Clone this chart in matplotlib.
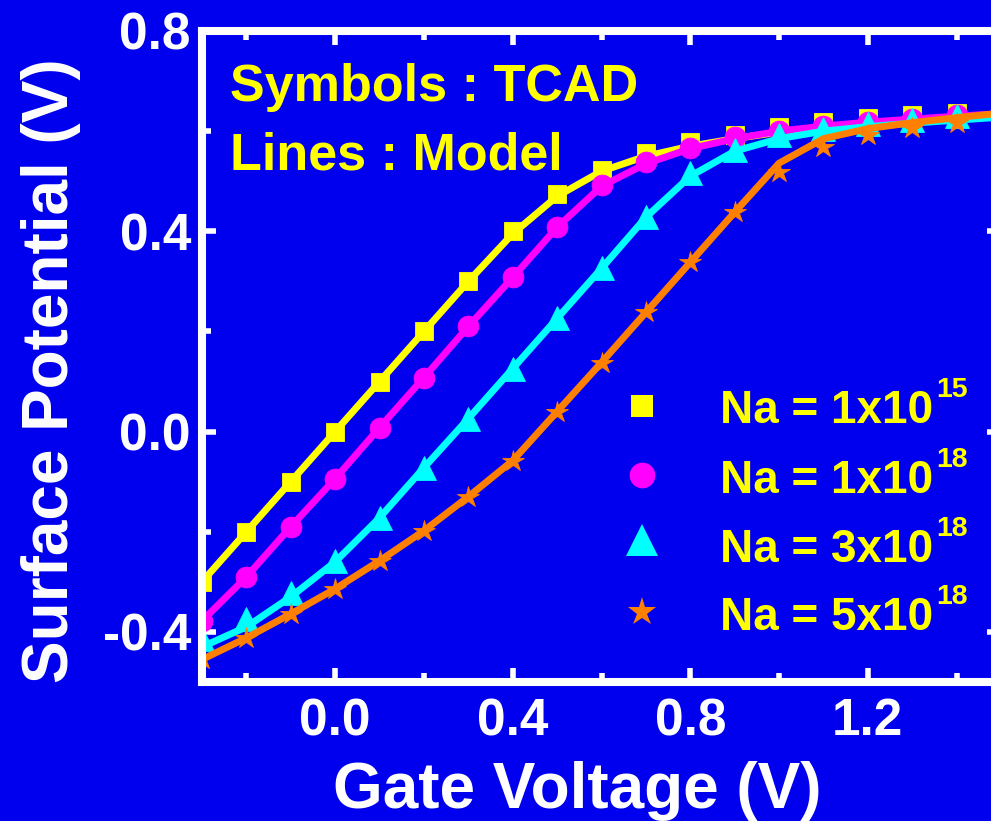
import matplotlib
matplotlib.use("Agg")
import matplotlib.pyplot as plt
from matplotlib.ticker import MultipleLocator

plt.rcParams['font.family'] = ['Liberation Sans', 'DejaVu Sans']
plt.rcParams['font.weight'] = 'bold'

# ---- data ----
vg_tcad = [-0.3, -0.2, -0.1, 0.0, 0.1, 0.2, 0.3, 0.4, 0.5, 0.6, 0.7, 0.8, 0.9,
           1.0, 1.1, 1.2, 1.3, 1.4]
tcad_1e15 = [-0.30, -0.20, -0.10, 0.00, 0.10, 0.20, 0.30, 0.40, 0.475, 0.522,
             0.556, 0.578, 0.592, 0.608, 0.618, 0.626, 0.632, 0.636]
tcad_1e18 = [-0.378, -0.29, -0.19, -0.094, 0.008, 0.108, 0.21, 0.308, 0.408,
             0.492, 0.538, 0.566, 0.588, 0.600, 0.610, 0.618, 0.625, 0.632]
tcad_3e18 = [-0.415, -0.375, -0.322, -0.258, -0.172, -0.072, 0.026, 0.126,
             0.226, 0.326, 0.428, 0.516, 0.562, 0.592, 0.604, 0.614, 0.622, 0.630]
tcad_5e18 = [-0.454, -0.412, -0.364, -0.314, -0.258, -0.198, -0.13, -0.058,
             0.04, 0.138, 0.238, 0.338, 0.438, 0.518, 0.568, 0.592, 0.606, 0.616]

vg_model = [-0.3, -0.2, -0.1, 0.0, 0.1, 0.2, 0.3, 0.4, 0.5, 0.6, 0.7, 0.8, 0.9,
            1.0, 1.1, 1.2, 1.3, 1.4, 1.5]
model_1e15 = [-0.30, -0.20, -0.10, 0.00, 0.10, 0.20, 0.30, 0.395, 0.47, 0.52,
              0.55, 0.57, 0.585, 0.598, 0.607, 0.614, 0.62, 0.625, 0.63]
model_1e18 = [-0.378, -0.29, -0.19, -0.094, 0.008, 0.108, 0.21, 0.308, 0.408,
              0.49, 0.535, 0.565, 0.585, 0.600, 0.610, 0.618, 0.624, 0.630, 0.635]
model_3e18 = [-0.43, -0.39, -0.33, -0.26, -0.172, -0.072, 0.026, 0.126, 0.226,
              0.326, 0.428, 0.51, 0.56, 0.585, 0.600, 0.609, 0.616, 0.622, 0.628]
model_5e18 = [-0.455, -0.412, -0.364, -0.314, -0.258, -0.198, -0.13, -0.058,
              0.04, 0.138, 0.238, 0.338, 0.438, 0.536, 0.585, 0.605, 0.617,
              0.627, 0.636]

label_base = ['Na = 1x10', 'Na = 1x10', 'Na = 3x10', 'Na = 5x10']
label_exp = ['15', '18', '18', '18']
colors = ['#FFFF00', '#FF00FF', '#00FFFF', '#FF8000']
markers = ['s', 'o', '^', '*']
x_ticks = [0.0, 0.4, 0.8, 1.2]
y_ticks = [-0.4, 0.0, 0.4, 0.8]

BG = '#0000EE'
W, H = 991, 821

fig = plt.figure(figsize=(W / 100, H / 100), dpi=100, facecolor=BG)
ax = fig.add_axes([202 / W, (H - 682) / H, 799 / W, 651 / H], facecolor=BG)

tcad = [tcad_1e15, tcad_1e18, tcad_3e18, tcad_5e18]
model = [model_1e15, model_1e18, model_3e18, model_5e18]
msizes = [13.5, 15, 17, 16]
for i in range(4):
    ax.plot(vg_tcad, tcad[i], linestyle='none', marker=markers[i],
            markersize=msizes[i], color=colors[i], markeredgewidth=0.6,
            markeredgecolor=colors[i], zorder=3 + 2 * i)
    ax.plot(vg_model, model[i], color=colors[i], linewidth=5,
            solid_capstyle='butt', solid_joinstyle='round', zorder=3 + 2 * i + 1)

ax.set_xlim(-0.3, 1.5)
ax.set_ylim(-0.5, 0.8)
ax.set_xticks(x_ticks)
ax.set_yticks(y_ticks)
ax.set_xticklabels([f'{v:.1f}' for v in x_ticks])
ax.set_yticklabels([f'{v:.1f}' for v in y_ticks])
ax.xaxis.set_minor_locator(MultipleLocator(0.2))
ax.yaxis.set_minor_locator(MultipleLocator(0.2))

for sp in ax.spines.values():
    sp.set_color('white')
    sp.set_linewidth(5.8)
    sp.set_zorder(20)

ax.tick_params(which='both', direction='in', color='white', top=True,
               right=True, labelcolor='white', labelsize=37)
ax.tick_params(which='major', length=10, width=4)
ax.tick_params(which='minor', length=6.5, width=4)
ax.tick_params(axis='x', which='major', pad=11)
ax.tick_params(axis='y', which='major', pad=8)
for lab in ax.get_xticklabels() + ax.get_yticklabels():
    lab.set_fontweight('bold')

fig.text(577.5 / W, 1 - 808 / H, 'Gate Voltage (V)', color='white',
         fontsize=46, fontweight='bold', ha='center', va='baseline')
fig.text(68 / W, 1 - 371 / H, 'Surface Potential (V)', color='white',
         fontsize=46, fontweight='bold', ha='center', va='baseline',
         rotation=90, rotation_mode='anchor')


def ax_frac(px, py):
    return (px - 202) / 799, (682 - py) / 651


tx, ty = ax_frac(230, 101)
ax.text(tx, ty, 'Symbols : TCAD', transform=ax.transAxes, color='#FFFF00',
        fontsize=37.5, fontweight='bold', ha='left', va='baseline', zorder=30)
tx, ty = ax_frac(230, 169)
ax.text(tx, ty, 'Lines : Model', transform=ax.transAxes, color='#FFFF00',
        fontsize=37.5, fontweight='bold', ha='left', va='baseline', zorder=30)

# legend (built by hand)
leg_marker_y = [406, 475, 540, 612]
leg_text_y = [423, 493, 562, 630]
leg_ms = [16.5, 18.5, 23, 21]
for i in range(4):
    mx, my = ax_frac(642, leg_marker_y[i])
    ax.plot([mx], [my], transform=ax.transAxes, marker=markers[i],
            markersize=leg_ms[i], color=colors[i], linestyle='none',
            markeredgewidth=0, clip_on=False, zorder=30)
    lx, ly = ax_frac(720, leg_text_y[i])
    ax.text(lx, ly, label_base[i], transform=ax.transAxes, color='#FFFF00',
            fontsize=33, fontweight='bold', ha='left', va='baseline',
            zorder=30)
    ex, ey = ax_frac(936, leg_text_y[i] - 26)
    ax.text(ex, ey, label_exp[i], transform=ax.transAxes, color='#FFFF00',
            fontsize=20.5, fontweight='bold', ha='left', va='baseline',
            zorder=30)

fig.savefig('out.png', dpi=100, facecolor=BG)
